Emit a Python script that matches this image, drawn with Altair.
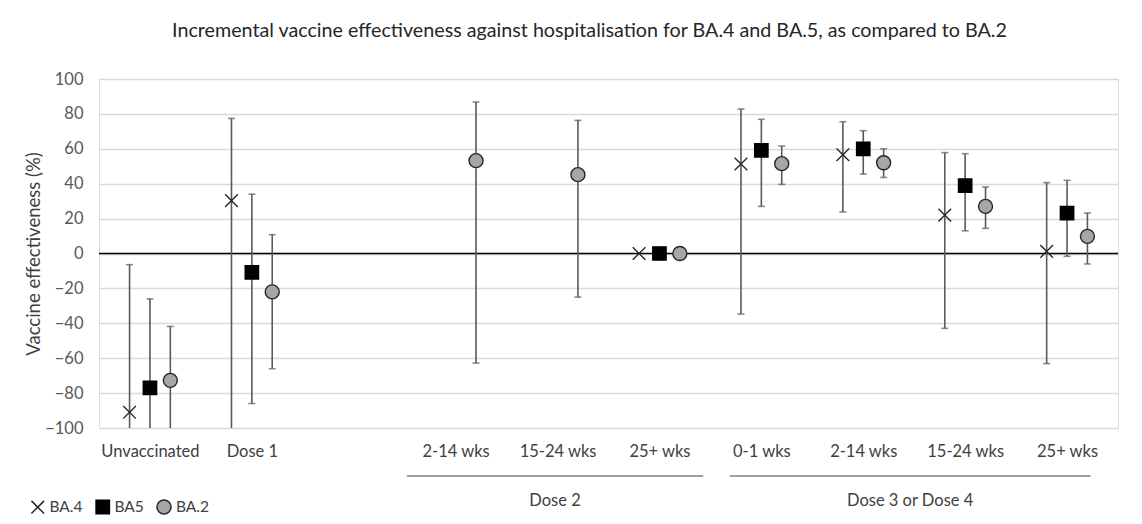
import altair as alt
import pandas as pd

# ---------------- data ----------------
categories = ["Unvaccinated", "Dose 1", "", "2-14 wks", "15-24 wks", "25+ wks",
              "0-1 wks", "2-14 wks", "15-24 wks", "25+ wks"]
series = ["BA.4", "BA5", "BA.2"]

ba4_est = [-91.0, 30.3, None, None, None, 0.0, 51.3, 56.6, 22.0, 1.2]
ba4_lo = [None, None, None, None, None, None, -34.7, 23.8, -42.9, -63.1]
ba4_hi = [-6.4, 77.4, None, None, None, None, 82.8, 75.5, 57.8, 40.6]

ba5_est = [-77.0, -10.8, None, None, None, 0.0, 59.1, 59.9, 38.9, 23.2]
ba5_lo = [None, -86.0, None, None, None, None, 27.0, 45.5, 13.0, -1.6]
ba5_hi = [-26.0, 34.0, None, None, None, None, 76.9, 70.4, 57.2, 41.9]

ba2_est = [-72.7, -22.0, None, 53.2, 45.2, 0.0, 51.5, 52.0, 27.0, 9.8]
ba2_lo = [None, -66.0, None, -62.8, -25.0, None, 39.6, 43.6, 14.4, -6.0]
ba2_hi = [-41.8, 10.8, None, 86.8, 76.3, None, 61.6, 60.0, 38.1, 23.2]

group_names = ["Dose 2", "Dose 3 or Dose 4"]
group_start = [3.02, 6.19]   # in category units
group_end = [5.93, 9.73]

Y_MIN, Y_MAX = -100, 100
series_offset = {"BA.4": -0.2, "BA5": 0.0, "BA.2": 0.2}

# ---------------- build tables ----------------
rows = []
for s, est, lo, hi in [("BA.4", ba4_est, ba4_lo, ba4_hi),
                       ("BA5", ba5_est, ba5_lo, ba5_hi),
                       ("BA.2", ba2_est, ba2_lo, ba2_hi)]:
    for i, cat in enumerate(categories):
        if est[i] is None:
            continue
        rows.append({"series": s, "cat": cat, "idx": i,
                     "pos": i + 0.5 + series_offset[s],
                     "est": est[i], "lo": lo[i], "hi": hi[i]})
df = pd.DataFrame(rows)
df_err = df[df["hi"].notna()].copy()
df_err["lo_draw"] = df_err["lo"].fillna(Y_MIN)
df_hi = df[df["hi"].notna()].copy()
df_lo = df[df["lo"].notna()].copy()

groups = pd.DataFrame({"name": group_names, "pos": group_start, "pos2": group_end})
groups["mid"] = (groups["pos"] + groups["pos2"]) / 2

label_arr = "[" + ",".join("'" + c + "'" for c in categories) + "]"
tick_vals = [i + 0.5 for i, c in enumerate(categories) if c]

FONT = "Lato"
GRID = "#d9d9d9"
TXT = "#404040"
ERR = "#5a5a5a"

x_scale = alt.Scale(domain=[0, len(categories)], nice=False, zero=False)
x_axis = alt.Axis(values=tick_vals, labelExpr=label_arr + "[floor(datum.value)]",
                  grid=False, ticks=False, domain=False, labelPadding=15,
                  labelFontSize=16.5, labelColor=TXT, labelFont=FONT, title=None)
y_scale = alt.Scale(domain=[Y_MIN, Y_MAX], nice=False)
y_axis = alt.Axis(values=list(range(-100, 101, 20)), grid=True, gridColor=GRID,
                  gridWidth=1.4, ticks=False, domain=False, labelPadding=16,
                  labelFontSize=16.5, labelColor="#595959", labelFont=FONT,
                  title="Vaccine effectiveness (%)", titleFontSize=18.5,
                  titleFont=FONT, titleFontWeight="normal", titleColor=TXT,
                  titlePadding=1)


def X(field="pos"):
    return alt.X(f"{field}:Q", scale=x_scale, axis=x_axis)


def Y(field):
    return alt.Y(f"{field}:Q", scale=y_scale, axis=y_axis)


legend = alt.Legend(title=None, orient="none", legendX=-69, legendY=420,
                    direction="horizontal",
                    symbolStrokeWidth=1.5, labelFontSize=15.5,
                    labelFont=FONT, labelColor=TXT, labelOffset=4,
                    columnPadding=10)

zero = alt.Chart(pd.DataFrame({"v": [0]})).mark_rule(color="#000000", strokeWidth=1.7).encode(
    y=Y("v"))

bars = alt.Chart(df_err).mark_rule(color=ERR, strokeWidth=1.6, clip=True).encode(
    x=X(), y=Y("lo_draw"), y2="hi:Q")

caps_hi = alt.Chart(df_hi).mark_tick(color=ERR, thickness=1.6, size=7,
                                     orient="horizontal", clip=True).encode(x=X(), y=Y("hi"))
caps_lo = alt.Chart(df_lo).mark_tick(color=ERR, thickness=1.6, size=7,
                                     orient="horizontal", clip=True).encode(x=X(), y=Y("lo"))

points = alt.Chart(df).mark_point(filled=False, opacity=1, strokeWidth=1.4).encode(
    x=X(), y=Y("est"),
    shape=alt.Shape("series:N", scale=alt.Scale(domain=series,
                    range=["M-1,-1L1,1M1,-1L-1,1", "square", "circle"]), legend=legend),
    fill=alt.Fill("series:N", scale=alt.Scale(domain=series,
                  range=["transparent", "#000000", "#a6a6a6"]), legend=legend),
    stroke=alt.Stroke("series:N", scale=alt.Scale(domain=series,
                      range=["#262626", "#000000", "#262626"]), legend=legend),
    size=alt.Size("series:N", scale=alt.Scale(domain=series, range=[160, 196, 140]),
                  legend=legend),
)

glines = alt.Chart(groups).mark_rule(color="#808080", strokeWidth=1.5).encode(
    x=X("pos"), x2="pos2:Q", y=alt.value(397))
gtext = alt.Chart(groups).mark_text(font=FONT, fontSize=16.5, color=TXT,
                                    baseline="middle").encode(
    x=X("mid"), y=alt.value(422), text="name:N")

chart = alt.layer(zero, bars, caps_hi, caps_lo, points, glines, gtext).properties(
    width=1019, height=349,
    title=alt.TitleParams("Incremental vaccine effectiveness against hospitalisation for BA.4 and BA.5, as compared to BA.2",
                          font=FONT, fontSize=19.7, fontWeight="normal", color="#262626",
                          anchor="middle", dx=-19, offset=30),
    autosize=alt.AutoSizeParams(type="none"),
    padding={"left": 91, "top": 71, "right": 16, "bottom": 88},
).configure_view(stroke=None).configure(background="white")

chart.save("out.html", embed_options={"renderer": "svg", "actions": False})
